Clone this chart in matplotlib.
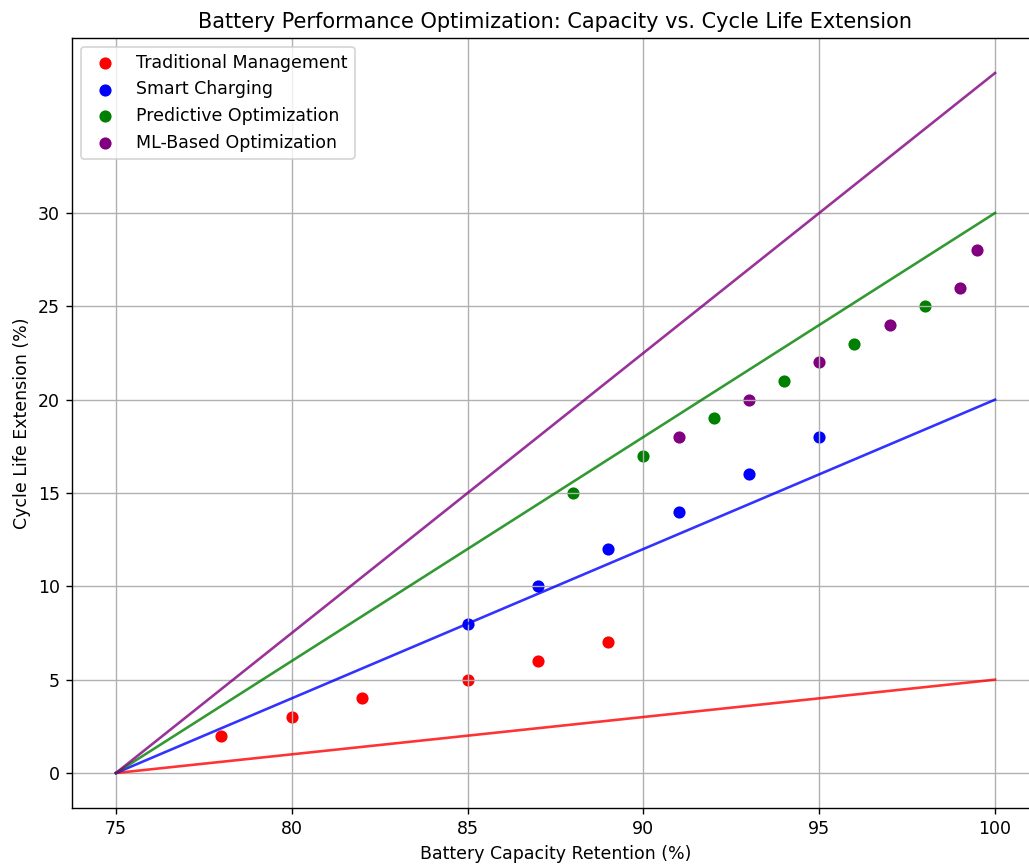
import matplotlib
matplotlib.use("Agg")
import matplotlib.pyplot as plt

# scatter data
trad_x = [78, 80, 82, 85, 87, 89]
trad_y = [2, 3, 4, 5, 6, 7]
smart_x = [85, 87, 89, 91, 93, 95]
smart_y = [8, 10, 12, 14, 16, 18]
pred_x = [88, 90, 92, 94, 96, 98]
pred_y = [15, 17, 19, 21, 23, 25]
ml_x = [91, 93, 95, 97, 99, 99.5]
ml_y = [18, 20, 22, 24, 26, 28]

# trend lines (start -> end)
line_x = [75, 100]
trad_line = [0, 5]
smart_line = [0, 20]
pred_line = [0, 30]
ml_line = [0, 37.5]

dpi = 125
fig = plt.figure(figsize=(1029 / dpi, 865 / dpi), dpi=dpi)
ax = fig.add_axes([72 / 1029, 57 / 865, 967 / 1029, 770 / 865])

ax.scatter(trad_x, trad_y, color='red', label='Traditional Management')
ax.scatter(smart_x, smart_y, color='blue', label='Smart Charging')
ax.scatter(pred_x, pred_y, color='green', label='Predictive Optimization')
ax.scatter(ml_x, ml_y, color='purple', label='ML-Based Optimization')

ax.plot(line_x, trad_line, color='red', alpha=0.8)
ax.plot(line_x, smart_line, color='blue', alpha=0.8)
ax.plot(line_x, pred_line, color='green', alpha=0.8)
ax.plot(line_x, ml_line, color='purple', alpha=0.8)

ax.set_yticks([0, 5, 10, 15, 20, 25, 30])
ax.set_xlabel('Battery Capacity Retention (%)')
ax.set_ylabel('Cycle Life Extension (%)')
ax.set_title('Battery Performance Optimization: Capacity vs. Cycle Life Extension')
ax.legend(loc='upper left')
ax.grid(True)

fig.savefig('out.png', dpi=dpi)
